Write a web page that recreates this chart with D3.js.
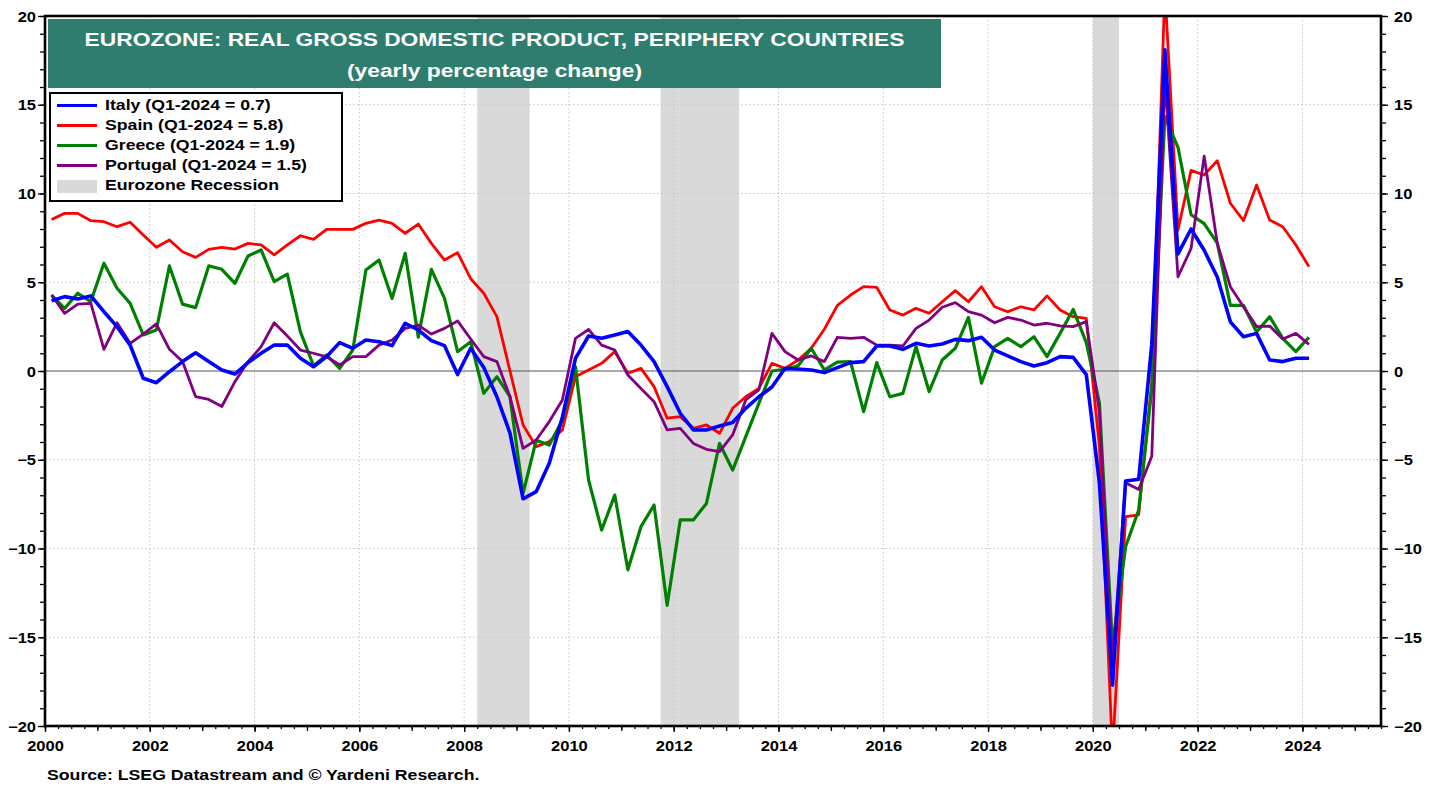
<!DOCTYPE html>
<html><head><meta charset="utf-8">
<script src="https://cdn.jsdelivr.net/npm/d3@7"></script>
<style>
html,body{margin:0;padding:0;background:#fff;}
svg{display:block;font-family:"Liberation Sans",Arial,Helvetica,sans-serif;font-weight:bold;}
</style></head>
<body>
<svg id="chart" width="1438" height="789"></svg>
<script>
// ---------- data (quarterly, 2000Q1 .. 2024Q1, yearly % change) ----------
const startYear = 2000;
const italy = [
 3.96,4.19,4.06,4.23, 3.34,2.5,1.46,-0.41, -0.66,-0.04,0.53,1.03, 0.53,0.06,-0.17,0.47,
 1.0,1.46,1.46,0.72, 0.24,0.81,1.6,1.28, 1.75,1.65,1.43,2.69, 2.31,1.71,1.43,-0.2,
 1.28,0.2,-1.45,-3.5, -7.2,-6.8,-5.2,-2.6, 0.71,1.97,1.84,2.03, 2.22,1.46,0.53,-0.88,
 -2.38,-3.32,-3.32,-3.1, -2.9,-2.1,-1.45,-0.9, 0.15,0.11,0.06,-0.09, 0.19,0.47,0.53,1.41,
 1.41,1.22,1.56,1.41, 1.52,1.78,1.71,1.9, 1.18,0.85,0.53,0.28, 0.47,0.81,0.77,-0.2,
 -6.3,-17.7,-6.2,-6.1, 1.5,18.1,6.6,8.0, 6.8,5.3,2.77,1.93, 2.12,0.62,0.53,0.72, 0.72];
const spain = [
 8.54,8.88,8.88,8.47, 8.41,8.13,8.38,7.66, 6.97,7.38,6.72,6.4, 6.85,6.97,6.87,7.19,
 7.1,6.54,7.1,7.62, 7.42,7.98,7.98,7.98, 8.32,8.5,8.32,7.76, 8.28,7.19,6.25,6.67,
 5.2,4.38,3.06,0.0, -3.04,-4.26,-3.98,-3.32, -0.32,0.06,0.43,1.09, -0.13,0.15,-0.88,-2.66,
 -2.57,-3.23,-3.04,-3.51, -2.1,-1.45,-0.98,0.43, 0.15,0.62,1.28,2.35, 3.7,4.28,4.75,4.71,
 3.44,3.15,3.53,3.25, 3.9,4.53,3.9,4.75, 3.62,3.34,3.62,3.44, 4.23,3.44,3.06,2.97,
 -4.2,-21.5,-8.2,-8.1, -0.6,21.5,7.94,11.3, 11.04,11.85,9.45,8.47, 10.48,8.5,8.13,7.1, 5.88];
const greece = [
 4.28,3.53,4.38,3.91, 6.07,4.66,3.81,2.03, 2.31,5.92,3.77,3.57, 5.92,5.73,4.94,6.48,
 6.82,5.03,5.46,2.2, 0.3,0.9,0.15,1.18, 5.69,6.25,4.09,6.63, 1.9,5.73,4.09,1.09,
 1.65,-1.26,-0.32,-1.45, -6.9,-3.9,-4.17,-2.76, 0.24,-6.14,-8.96,-6.99, -11.2,-8.77,-7.55,-13.2,
 -8.39,-8.39,-7.46,-4.08, -5.58,-3.7,-1.82,0.0, 0.1,0.3,1.28,0.06, 0.5,0.53,-2.29,0.47,
 -1.45,-1.26,1.37,-1.16, 0.62,1.28,3.02,-0.69, 1.37,1.84,1.37,1.93, 0.81,2.12,3.47,1.6,
 -1.8,-15.5,-9.9,-7.83, -1.0,14.33,12.6,8.8, 8.3,7.2,3.7,3.7, 2.2,3.06,1.84,1.09, 1.9];
const portugal = [
 4.28,3.25,3.77,3.81, 1.22,2.72,1.56,2.08, 2.65,1.22,0.53,-1.45, -1.6,-2.0,-0.6,0.53,
 1.37,2.72,1.97,1.18, 1.0,0.8,0.34,0.81, 0.81,1.46,1.75,2.4, 2.59,2.08,2.4,2.82,
 1.8,0.81,0.53,-1.45, -4.36,-3.89,-2.85,-1.63, 1.84,2.35,1.46,1.18, -0.23,-0.98,-1.73,-3.32,
 -3.23,-4.08,-4.41,-4.54, -3.6,-1.63,-1.07,2.12, 1.09,0.62,0.85,0.53, 1.9,1.84,1.9,1.46,
 1.46,1.41,2.4,2.87, 3.59,3.85,3.34,3.15, 2.72,3.02,2.87,2.59, 2.69,2.54,2.5,2.78,
 -2.3,-16.5,-6.3,-6.67, -4.8,16.5,5.31,6.9, 12.1,7.2,4.75,3.62, 2.5,2.53,1.8,2.12, 1.5];

const seriesNames = ["Spain","Greece","Portugal","Italy"];
const seriesLabels = {
  Italy:"Italy (Q1-2024 = 0.7)", Spain:"Spain (Q1-2024 = 5.8)",
  Greece:"Greece (Q1-2024 = 1.9)", Portugal:"Portugal (Q1-2024 = 1.5)"};
const legendOrder = ["Italy","Spain","Greece","Portugal"];
const recessions = [[2008.25,2009.25],[2011.75,2013.25],[2020.0,2020.5]];
const yTicks = [-20,-15,-10,-5,0,5,10,15,20];
const xTickYears = [2000,2002,2004,2006,2008,2010,2012,2014,2016,2018,2020,2022,2024];
const titleLine1 = "EUROZONE: REAL GROSS DOMESTIC PRODUCT, PERIPHERY COUNTRIES";
const titleLine2 = "(yearly percentage change)";
const sourceText = "Source: LSEG Datastream and \u00A9 Yardeni Research.";

// ---------- styles ----------
const colors = {Italy:"#0000ff", Spain:"#ff0000", Greece:"#008000", Portugal:"#800080"};
const widths = {Italy:3.6, Spain:2.8, Greece:3.2, Portugal:2.8};
const SX = 1.18; // horizontal text stretch of the original

const data = {Italy:italy, Spain:spain, Greece:greece, Portugal:portugal};
const toPts = arr => arr.map((v,i)=>({t:startYear + i/4 + 0.125, v}));

const L=45, R=1381, T=16, B=726;
const x = d3.scaleLinear().domain([2000,2025.5]).range([L,R]);
const y = d3.scaleLinear().domain([-20,20]).range([B,T]);

const svg = d3.select("#chart");

function txt(sel, px, py, str, size, anchor, color, sx){
  return sel.append("text")
    .attr("transform",`translate(${px},${py}) scale(${sx||SX},1)`)
    .attr("text-anchor",anchor||"start")
    .attr("font-size",size)
    .attr("fill",color||"#000")
    .text(str);
}

// clip
svg.append("clipPath").attr("id","plotclip")
  .append("rect").attr("x",L).attr("y",T).attr("width",R-L).attr("height",B-T);

// recession bands
svg.append("g").selectAll("rect").data(recessions).join("rect")
  .attr("x",d=>x(d[0])).attr("width",d=>x(d[1])-x(d[0]))
  .attr("y",T).attr("height",B-T).attr("fill","#d9d9d9");

// grid
const grid = svg.append("g").attr("stroke","#c4c4c4").attr("stroke-width",1)
  .attr("stroke-dasharray","1.5,2.5");
grid.selectAll("line.h").data(yTicks.filter(v=>v!==0 && Math.abs(v)<20)).join("line")
  .attr("x1",L).attr("x2",R).attr("y1",d=>y(d)).attr("y2",d=>y(d));
grid.selectAll("line.v").data(xTickYears.filter(v=>v>2000)).join("line")
  .attr("y1",T).attr("y2",B).attr("x1",d=>x(d)).attr("x2",d=>x(d));

// zero line
svg.append("line").attr("x1",L).attr("x2",R).attr("y1",y(0)).attr("y2",y(0))
  .attr("stroke","#555").attr("stroke-width",1);

// series
const line = d3.line().x(d=>x(d.t)).y(d=>y(d.v));
const lg = svg.append("g").attr("clip-path","url(#plotclip)");
seriesNames.forEach(n=>{
  lg.append("path").datum(toPts(data[n])).attr("d",line)
    .attr("fill","none").attr("stroke",colors[n]).attr("stroke-width",widths[n])
    .attr("stroke-linejoin","round").attr("stroke-linecap","butt");
});

// axes
function styleAxis(g){ g.select(".domain").remove(); g.selectAll("line").attr("stroke","#000").attr("stroke-width",1.3); }
const yMinor = d3.range(-20,21,1);
svg.append("g").attr("transform",`translate(${L},0)`)
  .call(d3.axisLeft(y).tickValues(yMinor).tickSize(5).tickFormat(""))
  .call(styleAxis);
const yl = svg.append("g").attr("transform",`translate(${L},0)`)
  .call(d3.axisLeft(y).tickValues(yTicks).tickSize(7).tickPadding(2).tickFormat(d3.format("d")))
  .call(styleAxis);
yl.selectAll("text").attr("font-size",14).attr("font-family",null).attr("fill","#000")
  .attr("x",-9).attr("dy","0.36em")
  .attr("transform",`scale(${SX},1)`).attr("x",-9/SX);
svg.append("g").attr("transform",`translate(${R},0)`)
  .call(d3.axisRight(y).tickValues(yMinor).tickSize(5).tickFormat(""))
  .call(styleAxis);
const yr = svg.append("g").attr("transform",`translate(${R},0)`)
  .call(d3.axisRight(y).tickValues(yTicks).tickSize(7).tickFormat(d3.format("d")))
  .call(styleAxis);
yr.selectAll("text").attr("font-size",14).attr("font-family",null).attr("fill","#000")
  .attr("dy","0.36em").attr("transform",`scale(${SX},1)`).attr("x",13/SX);

const xQuarters = d3.range(2000,2025.51,0.25);
svg.append("g").attr("transform",`translate(0,${B})`)
  .call(d3.axisBottom(x).tickValues(xQuarters).tickSize(3).tickFormat(""))
  .call(styleAxis);
svg.append("g").attr("transform",`translate(0,${B})`)
  .call(d3.axisBottom(x).tickValues(d3.range(2000,2026,1)).tickSize(5).tickFormat(""))
  .call(styleAxis);
const xa = svg.append("g").attr("transform",`translate(0,${B})`)
  .call(d3.axisBottom(x).tickValues(xTickYears).tickSize(6).tickFormat(d3.format("d")))
  .call(styleAxis);
xa.selectAll(".tick").each(function(){
  const t = d3.select(this).select("text");
  t.attr("font-size",14).attr("font-family",null).attr("fill","#000")
   .attr("y",null).attr("dy",null)
   .attr("transform",`translate(0,25) scale(${SX},1)`);
});

// frame
svg.append("rect").attr("x",L).attr("y",T).attr("width",R-L).attr("height",B-T)
  .attr("fill","none").attr("stroke","#000").attr("stroke-width",2.6);

// title box
svg.append("rect").attr("x",48).attr("y",19).attr("width",893).attr("height",69)
  .attr("fill","#2e7d6e");
txt(svg, 494.5, 46, titleLine1, 19, "middle", "#fff", 1.2);
txt(svg, 494.5, 77, titleLine2, 19, "middle", "#fff", 1.2);

// legend
const leg = svg.append("g");
leg.append("rect").attr("x",50).attr("y",93).attr("width",292).attr("height",108)
  .attr("fill","#fff").attr("stroke","#000").attr("stroke-width",2);
legendOrder.forEach((n,i)=>{
  const by = 110 + i*20;
  leg.append("line").attr("x1",57).attr("x2",97).attr("y1",by-4.5).attr("y2",by-4.5)
    .attr("stroke",colors[n]).attr("stroke-width",3.2);
  txt(leg, 105, by, seriesLabels[n], 15, "start");
});
leg.append("rect").attr("x",57).attr("y",180).attr("width",40).attr("height",13).attr("fill","#d9d9d9");
txt(leg, 105, 190, "Eurozone Recession", 15, "start");

// source
txt(svg, 47, 780, sourceText, 15, "start");
</script>
</body></html>
